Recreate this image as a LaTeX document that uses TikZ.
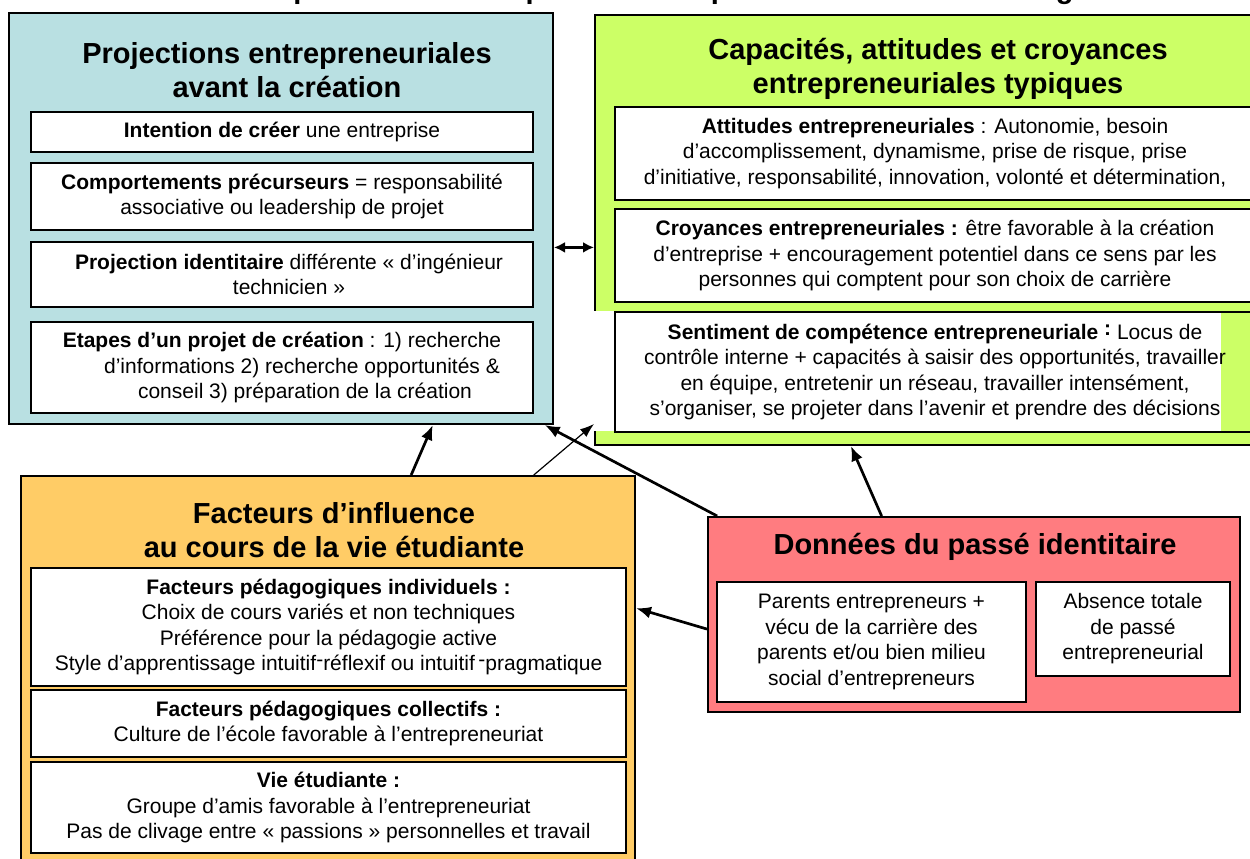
\documentclass[tikz,border=0pt]{standalone}
\usepackage{fontspec}
\setmainfont{Liberation Sans}
\usetikzlibrary{calc,arrows.meta}

\definecolor{projblue}{RGB}{185,224,226}
\definecolor{capagreen}{RGB}{204,255,102}
\definecolor{factorange}{RGB}{255,204,102}
\definecolor{passered}{RGB}{255,124,128}

\tikzstyle{groupbox}=[draw=black,line width=2pt,inner sep=0pt]
\tikzstyle{headtext}=[inner sep=0pt,align=center,font=\fontsize{29}{34}\selectfont\bfseries]
\tikzstyle{itembox}=[draw=black,fill=white,line width=1.4pt,inner sep=0pt,align=center,font=\fontsize{21}{25.5}\selectfont]
\tikzstyle{thickarrow}=[line width=2.7pt,-{Latex[length=15pt,width=12pt]}]
\tikzstyle{thinarrow}=[line width=1.2pt,-{Latex[length=14pt,width=10pt]}]
\tikzstyle{botharrow}=[line width=2.4pt,{Latex[length=11pt,width=11pt]}-{Latex[length=11pt,width=11pt]}]

\begin{document}
\begin{tikzpicture}[x=1pt,y=-1pt]
	\useasboundingbox (0,0) rectangle (1250,859);
	\clip (0,0) rectangle (1250,859);
	%The title, cut by the top edge
	\node[anchor=base,inner sep=0pt,font=\fontsize{29}{34}\selectfont\bfseries] (title) at (665,-1.5)
		{Modèle exploratoire de l’aspiration entrepreneuriale des élèves ingénieurs};

	%The four groups
	\node[groupbox,fill=projblue,minimum width=544pt,minimum height=411pt] (proj) at (281,218.5) {};
	\node[groupbox,fill=capagreen,minimum width=667pt,minimum height=430pt] (capa) at (928.5,230) {};
	\node[groupbox,fill=factorange,minimum width=614pt,minimum height=404pt] (facteurs) at (328,678) {};
	\node[groupbox,fill=passered,minimum width=532pt,minimum height=195pt] (passe) at (974,614.5) {};

	\node[headtext] (projtitle) at (287,70) {Projections entrepreneuriales\\avant la création};
	\node[headtext] (capatitle) at (938,68.5) {Capacités, attitudes et croyances\\entrepreneuriales typiques};
	\node[headtext] (factitle) at (334,530.5) {Facteurs d’influence\\au cours de la vie étudiante};
	\node[headtext] (passetitle) at (975,547) {Données du passé identitaire};

	%The inner boxes of the blue group
	\foreach \pos/\name/\h/\txt in {{(282,132)/intention/40/{\textbf{Intention de créer} une entreprise}},
			{(282,196.5)/comportements/67/{\textbf{Comportements précurseurs} = responsabilité\\associative ou leadership de projet}},
			{(282,274.5)/identitaire/65/{\hspace*{14pt}\textbf{Projection identitaire}  différente « d’ingénieur\\\hspace*{14pt}technicien »}},
			{(282,367.5)/etapes/91/{\textbf{Etapes d’un projet de création}  : 1) recherche\\\hspace*{40pt}d’informations  2) recherche opportunités \&\\\hspace*{46pt}conseil 3) préparation de la création}}}
		\node[itembox,minimum width=502pt,minimum height=\h pt] (\name) at \pos {\txt};

	%The inner boxes of the green group
	\foreach \pos/\name/\h/\txt in {{(935,153.5)/attitudes/93/{\textbf{Attitudes entrepreneuriales} : Autonomie, besoin\\d’accomplissement, dynamisme, prise de risque, prise\\d’initiative, responsabilité, innovation, volonté et détermination,}},
			{(935,255.5)/croyances/93/{\textbf{Croyances entrepreneuriales :}  être favorable à la création\\d’entreprise + encouragement potentiel dans ce sens par les\\personnes qui comptent pour son choix de carrière}}}
		\node[itembox,minimum width=640pt,minimum height=\h pt] (\name) at \pos {\txt};
	\fill[white] (592,311) rectangle (1221,431);
	\node[itembox,fill=none,minimum width=640pt,minimum height=120pt] (sentiment) at (935,372)
		{\textbf{Sentiment de compétence  entrepreneuriale} \raisebox{.2em}{\textbf{:}} Locus de\\contrôle interne + capacités à saisir des opportunités, travailler\\en équipe, entretenir un réseau, travailler intensément,\\s’organiser, se projeter dans l’avenir et prendre des décisions};

	%The inner boxes of the orange group
	\foreach \pos/\name/\h/\txt in {{(328.5,627)/individuels/118/{\textbf{Facteurs pédagogiques individuels :}\\Choix de cours variés et non techniques\\Préférence pour la pédagogie active\\Style d’apprentissage  intuitif\raisebox{.2em}{-}réflexif  ou intuitif\,\raisebox{.2em}{-}pragmatique}},
			{(328.5,723.5)/collectifs/67/{\textbf{Facteurs pédagogiques collectifs :}\\Culture de l’école favorable à l’entrepreneuriat}},
			{(328.5,807.5)/vie/91/{\textbf{Vie étudiante :}\\Groupe d’amis favorable à l’entrepreneuriat\\Pas de clivage entre « passions » personnelles et travail}}}
		\node[itembox,minimum width=595pt,minimum height=\h pt] (\name) at \pos {\txt};

	%The inner boxes of the red group
	\node[itembox,minimum width=309pt,minimum height=120pt] (parents) at (871.5,642)
		{Parents entrepreneurs +\\vécu de la carrière des\\parents  et/ou bien milieu\\social d’entrepreneurs};
	\node[itembox,minimum width=194pt,minimum height=94pt] (absence) at (1133,629)
		{Absence totale\\de passé\\entrepreneurial};

	%Arrows between the groups
	\coordinate (pc) at ($(proj.north east)!0.57!(proj.south east)$);
	\draw[botharrow] (pc) -- (pc -| capa.west);
	\draw[thickarrow] ($(facteurs.north west)!0.635!(facteurs.north east)$) -- ($(proj.south west)!0.778!(proj.south east)$);
	\draw[thinarrow] ($(facteurs.north west)!0.834!(facteurs.north east)$) -- ($(capa.north west)!0.949!(capa.south west)$);
	\draw[thickarrow] ($(passe.north west)!0.019!(passe.north east)$) -- ($(proj.south west)!0.983!(proj.south east)$);
	\draw[thickarrow] ($(passe.north west)!0.327!(passe.north east)$) -- ($(capa.south west)!0.384!(capa.south east)$);
	\draw[thickarrow] ($(passe.north west)!0.574!(passe.south west)$) -- ($(facteurs.north east)!0.328!(facteurs.south east)$);
\end{tikzpicture}
\end{document}
